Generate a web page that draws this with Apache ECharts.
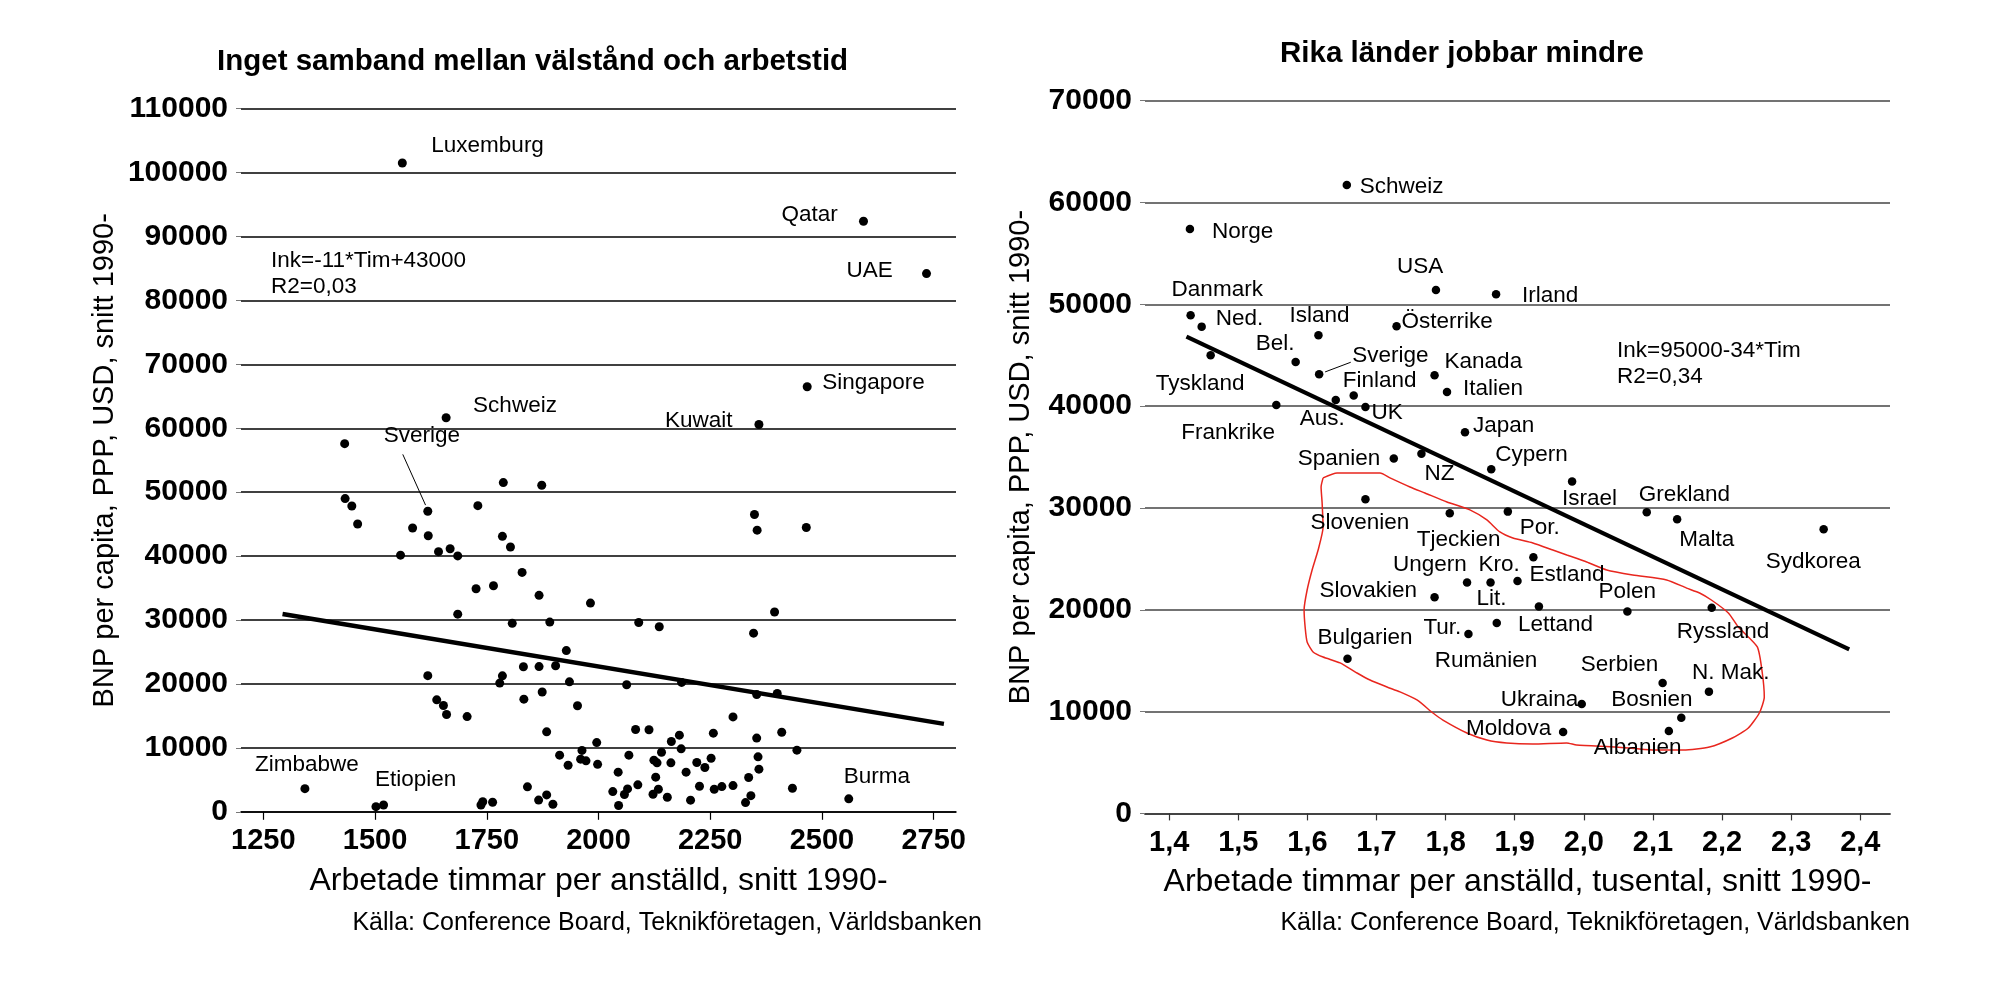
<!DOCTYPE html>
<html lang="sv">
<head>
<meta charset="UTF-8">
<title>Välstånd och arbetstid</title>
<script src="https://cdn.jsdelivr.net/npm/echarts@6/dist/echarts.min.js"></script>
<style>
  html, body { margin: 0; padding: 0; background: #fff; }
  #main { width: 2010px; height: 984px; }
</style>
</head>
<body>
<div id="main"></div>
<script>
// --- Vänster: alla länder, timmar per anställd och BNP per capita ---
const leftLabeled = [
  ['Luxemburg', 1561, 101500],
  ['Qatar', 2593, 92400],
  ['UAE', 2734, 84200],
  ['Singapore', 2467, 66500],
  ['Schweiz', 1659, 61650],
  ['Kuwait', 2359, 60600],
  ['Sverige', 1618, 47020],
  ['Zimbabwe', 1343, 3620],
  ['Etiopien', 1502, 800],
  ['Burma', 2560, 2030]
];
const leftOther = [
  [1432, 57600], [1787, 51500], [1873, 51080], [1433, 49000], [1448, 47850],
  [1461, 45030], [1730, 47900], [2349, 46510], [2355, 44060], [2465, 44480],
  [1584, 44400], [1619, 43180], [1785, 43100], [1803, 41420], [1557, 40150],
  [1642, 40700], [1668, 41150], [1685, 40030], [1829, 37450], [1726, 34900],
  [1765, 35360], [1867, 33860], [1982, 32650], [2394, 31250], [1685, 30920],
  [1807, 29480], [1891, 29680], [2090, 29620], [2136, 28950], [2347, 27950],
  [1928, 25220], [1618, 21300], [1785, 21270], [1779, 20140], [1832, 22700],
  [1867, 22720], [1904, 22850], [1935, 20330], [2063, 19870], [2186, 20240],
  [1833, 17620], [1874, 18750], [1638, 17520], [1653, 16630], [1660, 15220],
  [1706, 14900], [1953, 16590], [2354, 18350], [2400, 18520], [2301, 14850],
  [1884, 12510], [2083, 12870], [2113, 12830], [2257, 12300], [2354, 11530],
  [2410, 12450], [2181, 11990], [2163, 11000], [1996, 10830], [2185, 9850],
  [1963, 9600], [2444, 9640], [1913, 8860], [2141, 9320], [1960, 8240],
  [1972, 7970], [1932, 7290], [1998, 7420], [2068, 8860], [2124, 8080],
  [2131, 7660], [2162, 7660], [2220, 7720], [2238, 6930], [2252, 8380],
  [2357, 8600], [2359, 6670], [2196, 6200], [2128, 5420], [2044, 6200],
  [2336, 5360], [2088, 4220], [2226, 4000], [2259, 3520], [2276, 3940],
  [2301, 4100], [2434, 3690], [2032, 3160], [2065, 3580], [2058, 2700],
  [2122, 2750], [2134, 3530], [2154, 2280], [2206, 1820], [2341, 2530],
  [2329, 1440], [2045, 980], [1884, 2640], [1898, 1180], [1866, 1830],
  [1841, 3910], [1519, 1070], [1737, 1070], [1741, 1580], [1763, 1490]
];
const leftTrend = [[1293, 30950], [2773, 13760]];
const leftLeader = [[1562, 55920], [1613, 47980]];
const leftTicks = [1250, 1500, 1750, 2000, 2250, 2500, 2750];

// --- Höger: rika länder, tusental timmar ---
const rightLabeled = [
  ['Schweiz', 1.657, 61730], ['Norge', 1.430, 57410], ['USA', 1.786, 51410],
  ['Irland', 1.873, 50990], ['Danmark', 1.431, 48930], ['Ned.', 1.447, 47810],
  ['Österrike', 1.729, 47840], ['Island', 1.616, 46960], ['Tyskland', 1.460, 45000],
  ['Bel.', 1.583, 44340], ['Sverige', 1.617, 43130], ['Kanada', 1.784, 43030],
  ['Italien', 1.802, 41390], ['Finland', 1.667, 41040], ['Aus.', 1.641, 40610],
  ['Frankrike', 1.555, 40120], ['UK', 1.684, 39920], ['Japan', 1.828, 37440],
  ['Spanien', 1.725, 34850], ['NZ', 1.765, 35330], ['Cypern', 1.866, 33800],
  ['Israel', 1.983, 32590], ['Slovenien', 1.684, 30850], ['Tjeckien', 1.806, 29480],
  ['Por.', 1.890, 29640], ['Grekland', 2.091, 29570], ['Malta', 2.135, 28890],
  ['Sydkorea', 2.347, 27900], ['Estland', 1.927, 25160], ['Ungern', 1.831, 22670],
  ['Kro.', 1.865, 22670], ['Lit.', 1.904, 22830], ['Slovakien', 1.784, 21230],
  ['Lettand', 1.935, 20310], ['Polen', 2.063, 19820], ['Ryssland', 2.185, 20200],
  ['Rumänien', 1.874, 18700], ['Tur.', 1.833, 17620], ['Bulgarien', 1.658, 15200],
  ['Serbien', 2.114, 12810], ['N. Mak.', 2.181, 11960], ['Ukraina', 1.997, 10750],
  ['Bosnien', 2.141, 9400], ['Albanien', 2.123, 8090], ['Moldova', 1.970, 7990]
];
const rightTrend = [[1.425, 46830], [2.384, 16120]];
const rightLeader = [[1.6256, 43360], [1.6627, 44310]];
const rightTicks = [1.4, 1.5, 1.6, 1.7, 1.8, 1.9, 2.0, 2.1, 2.2, 2.3, 2.4];
// handritad ring runt öst- och sydeuropa
const rightLoop = [
  [1.6227, 32950], [1.6429, 33430], [1.7051, 33430], [1.7195, 32950], [1.7484, 32060],
  [1.7701, 31470], [1.8019, 30590], [1.8351, 29810], [1.8597, 28820], [1.8785, 27640],
  [1.8973, 27050], [1.9262, 26560], [1.9551, 25870], [1.9753, 25380], [2.0042, 24690],
  [2.0331, 23910], [2.0707, 23420], [2.1198, 22930], [2.1487, 22130], [2.1675, 21650],
  [2.1845, 20960], [2.2091, 19690], [2.2235, 18310], [2.2510, 16350], [2.2582, 13790],
  [2.2611, 11430], [2.2539, 9860], [2.2380, 8390], [2.2149, 7410], [2.1817, 6520],
  [2.1441, 6230], [2.0993, 6230], [2.0473, 6520], [1.9895, 6720], [1.9751, 6920],
  [1.9259, 6820], [1.8883, 6920], [1.8597, 7210], [1.8308, 7900], [1.7961, 9170],
  [1.7817, 9860], [1.7585, 11140], [1.7340, 11930], [1.7152, 12420], [1.6906, 13100],
  [1.6718, 13790], [1.6473, 14780], [1.6227, 15360], [1.6082, 15860], [1.5996, 16840],
  [1.5967, 18310], [1.5952, 19980], [1.5996, 21940], [1.6068, 23910], [1.6155, 25870],
  [1.6227, 28130], [1.6213, 30490], [1.6198, 32060], [1.6227, 32950]
];

// etikettplacering, px relativt punkten (textens vänsterkant, mitt)
const leftLabelOffset = {
  Luxemburg: [29, -17], Qatar: [-82, -6], UAE: [-80, -3], Singapore: [15, -4],
  Schweiz: [27, -12], Kuwait: [-94, -4], Sverige: [-44, -75],
  Zimbabwe: [-50, -24], Etiopien: [-1, -27], Burma: [-5, -22]
};
const rightLabelOffset = {
  Schweiz: [13, 2], Norge: [22, 3], USA: [-39, -23], Irland: [26, 2],
  Danmark: [-19, -25], 'Ned.': [14, -8], Island: [-29, -19], 'Österrike': [5, -5],
  'Bel.': [-40, -18], Sverige: [33, -18], Kanada: [10, -13], Tyskland: [-55, 29],
  Finland: [-11, -15], Italien: [16, -3], 'Aus.': [-36, 19], UK: [6, 6],
  Frankrike: [-95, 28], Japan: [8, -6], Spanien: [-96, 0], NZ: [3, 20],
  Cypern: [4, -14], Israel: [-10, 17], Slovenien: [-55, 23], Tjeckien: [-33, 27],
  'Por.': [12, 16], Grekland: [-8, -18], Malta: [2, 21], Sydkorea: [-58, 32],
  Estland: [-4, 18], Ungern: [-74, -18], 'Kro.': [-12, -18], 'Lit.': [-41, 18],
  Slovakien: [-115, -6], Lettand: [-21, 18], Polen: [-29, -20], Ryssland: [-35, 24],
  'Rumänien': [-62, 38], 'Tur.': [-45, -6], Bulgarien: [-30, -21], Serbien: [-82, -18],
  'N. Mak.': [-17, -19], Ukraina: [-81, -4], Bosnien: [-70, -18], Albanien: [-75, 17],
  Moldova: [-97, -3]
};

const FONT = '"Liberation Sans", Arial, sans-serif';

function labeled(points, offsets) {
  return points.map(([name, x, y]) => ({
    name: name,
    value: [x, y],
    label: { show: true, offset: offsets[name] || [0, 0] }
  }));
}

const pointLabel = {
  position: 'inside', align: 'left', verticalAlign: 'middle', formatter: '{b}',
  color: '#000', fontSize: 22.5, fontFamily: FONT
};

function yAxisFor(gridIndex, max, gap, lineColor) {
  return {
    gridIndex: gridIndex, type: 'value', min: 0, max: max, interval: 10000,
    name: 'BNP per capita, PPP, USD, snitt 1990-',
    nameLocation: 'middle', nameGap: gap,
    nameTextStyle: { fontSize: 29, color: '#000', fontFamily: FONT },
    axisLine: { show: false },
    axisTick: { show: true, length: 5, lineStyle: { color: '#777', width: 1 } },
    axisLabel: {
      fontSize: 30, fontWeight: 'bold', color: '#000', fontFamily: FONT,
      margin: 13, formatter: v => String(v)
    },
    splitLine: { show: true, lineStyle: { color: lineColor, width: 1.6 } }
  };
}

const option = {
  animation: false,
  backgroundColor: '#fff',
  title: [
    { text: 'Inget samband mellan välstånd och arbetstid', left: 212, top: 42,
      textStyle: { fontSize: 29.5, fontWeight: 'bold', color: '#000', fontFamily: FONT } },
    { text: 'Rika länder jobbar mindre', left: 1275, top: 34,
      textStyle: { fontSize: 29.5, fontWeight: 'bold', color: '#000', fontFamily: FONT } }
  ],
  grid: [
    { left: 241, right: 1054, top: 108.7, bottom: 172.2 },
    { left: 1145, right: 120, top: 100.7, bottom: 170.6 }
  ],
  xAxis: [
    {
      gridIndex: 0, type: 'value', min: 1200, max: 2800,
      name: 'Arbetade timmar per anställd, snitt 1990-',
      nameLocation: 'middle', nameGap: 53,
      nameTextStyle: { fontSize: 32, color: '#000', fontFamily: FONT },
      axisLine: { show: true, lineStyle: { color: '#000', width: 1.6 } },
      axisTick: { show: true, length: 8, customValues: leftTicks, lineStyle: { color: '#000', width: 1.2 } },
      axisLabel: { customValues: leftTicks, fontSize: 29, fontWeight: 'bold', color: '#000',
        fontFamily: FONT, margin: 15, formatter: v => String(v) },
      splitLine: { show: false }
    },
    {
      gridIndex: 1, type: 'value', min: 1.365, max: 2.443,
      name: 'Arbetade timmar per anställd, tusental, snitt 1990-',
      nameLocation: 'middle', nameGap: 53,
      nameTextStyle: { fontSize: 32, color: '#000', fontFamily: FONT },
      axisLine: { show: true, lineStyle: { color: '#444', width: 1.8 } },
      axisTick: { show: true, length: 7, customValues: rightTicks, lineStyle: { color: '#333', width: 1.2 } },
      axisLabel: { customValues: rightTicks, fontSize: 29, fontWeight: 'bold', color: '#000',
        fontFamily: FONT, margin: 15, formatter: v => Number(v).toFixed(1).replace('.', ',') },
      splitLine: { show: false }
    }
  ],
  yAxis: [
    yAxisFor(0, 110000, 122, '#000'),
    yAxisFor(1, 70000, 110, '#444')
  ],
  series: [
    {
      type: 'scatter', xAxisIndex: 0, yAxisIndex: 0, symbolSize: 9,
      itemStyle: { color: '#000', opacity: 1 }, data: leftOther, silent: true
    },
    {
      type: 'scatter', xAxisIndex: 0, yAxisIndex: 0, symbolSize: 9,
      itemStyle: { color: '#000', opacity: 1 }, label: pointLabel,
      data: labeled(leftLabeled, leftLabelOffset), silent: true
    },
    {
      type: 'line', xAxisIndex: 0, yAxisIndex: 0, data: leftTrend, symbol: 'none',
      lineStyle: { color: '#000', width: 4.5 }, silent: true, z: 3
    },
    {
      type: 'line', xAxisIndex: 0, yAxisIndex: 0, data: leftLeader, symbol: 'none',
      lineStyle: { color: '#000', width: 1 }, silent: true
    },
    {
      type: 'line', xAxisIndex: 1, yAxisIndex: 1, data: rightLoop, symbol: 'none',
      smooth: 0.2, lineStyle: { color: '#e8261e', width: 1.5 }, silent: true, z: 1
    },
    {
      type: 'scatter', xAxisIndex: 1, yAxisIndex: 1, symbolSize: 8.5,
      itemStyle: { color: '#000', opacity: 1 }, label: pointLabel,
      data: labeled(rightLabeled, rightLabelOffset), silent: true
    },
    {
      type: 'line', xAxisIndex: 1, yAxisIndex: 1, data: rightTrend, symbol: 'none',
      lineStyle: { color: '#000', width: 4.2 }, silent: true, z: 3
    },
    {
      type: 'line', xAxisIndex: 1, yAxisIndex: 1, data: rightLeader, symbol: 'none',
      lineStyle: { color: '#000', width: 1 }, silent: true
    }
  ],
  graphic: [
    { type: 'text', left: 271, top: 247,
      style: { text: 'Ink=-11*Tim+43000\nR2=0,03', fill: '#000', fontSize: 22.5,
        lineHeight: 26.7, fontFamily: FONT } },
    { type: 'text', left: 1617, top: 338,
      style: { text: 'Ink=95000-34*Tim\nR2=0,34', fill: '#000', fontSize: 22.5,
        lineHeight: 26, fontFamily: FONT } },
    { type: 'text', right: 2010 - 982, top: 911,
      style: { text: 'Källa: Conference Board, Teknikföretagen, Världsbanken', fill: '#000',
        fontSize: 25, fontFamily: FONT } },
    { type: 'text', right: 2010 - 1910, top: 911,
      style: { text: 'Källa: Conference Board, Teknikföretagen, Världsbanken', fill: '#000',
        fontSize: 25, fontFamily: FONT } }
  ]
};

const chart = echarts.init(document.getElementById('main'));
chart.setOption(option);
</script>
</body>
</html>
